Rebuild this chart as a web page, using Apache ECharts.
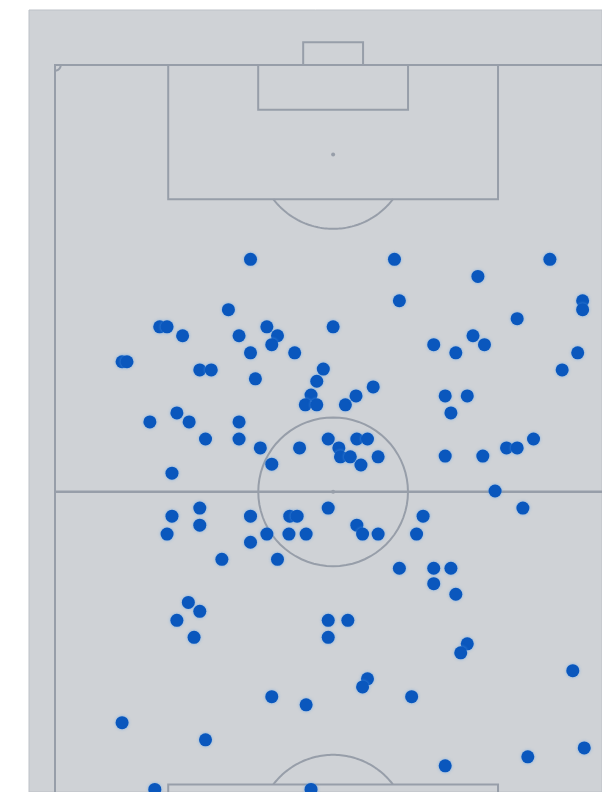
<!DOCTYPE html>
<html lang="en">

<head>
  <meta charset="UTF-8">
  <title>Pitch scatter</title>
  <script src="https://cdn.jsdelivr.net/npm/echarts@6/dist/echarts.min.js"></script>
  <style>
    html,
    body {
      height: 100%;
      margin: 0;
      padding: 0;
      background-color: #ffffff;
    }

    #pitch {
      width: 602px;
      height: 792px;
    }
  </style>
</head>

<body>
  <div id="pitch"></div>
  <script>
    // pitch size in metres (x = width, y = distance from the top goal line)
    const pitchWidth = 68;
    const pitchLength = 105;

    // event positions, metres
    const xs = [
      23.9, 41.5, 60.5, 51.7, 42.1, 64.5, 64.5, 21.2, 12.8, 13.7,
      15.6, 22.5, 25.9, 27.2, 26.5, 23.9, 29.3, 34.0, 56.5, 51.1,
      52.5, 46.3, 49.0, 63.9, 62.0, 8.2, 8.8, 17.7, 19.1, 24.5,
      32.8, 32.0, 31.3, 30.6, 32.0, 35.5, 36.8, 38.9, 47.7, 50.4,
      48.4, 11.6, 14.9, 16.4, 22.5, 18.4, 22.5, 25.1, 29.9, 33.4,
      34.7, 36.9, 38.2, 34.9, 36.1, 39.5, 37.4, 26.5, 14.3, 47.7,
      52.3, 55.2, 56.5, 58.5, 53.8, 57.2, 33.4, 17.7, 14.3, 17.7,
      13.7, 23.9, 28.7, 29.6, 25.9, 28.6, 30.7, 23.9, 20.4, 27.2,
      36.9, 37.6, 39.5, 45.0, 44.2, 42.1, 46.3, 48.4, 46.3, 49.0,
      16.3, 17.7, 14.9, 17.0, 33.4, 35.8, 33.4, 50.4, 49.6, 63.3,
      38.2, 37.6, 26.5, 30.7, 43.6, 8.2, 18.4, 64.7, 57.8, 47.7,
      12.2, 31.3
    ];
    const ys = [
      23.9, 23.9, 23.9, 26.0, 29.0, 29.0, 30.1, 30.1, 32.2, 32.2,
      33.3, 33.3, 32.2, 33.3, 34.4, 35.4, 35.4, 32.2, 31.2, 33.3,
      34.4, 34.4, 35.4, 35.4, 37.5, 36.5, 36.5, 37.5, 37.5, 38.6,
      37.4, 38.9, 40.6, 41.8, 41.8, 41.8, 40.7, 39.6, 40.7, 40.7,
      42.8, 43.9, 42.8, 43.9, 43.9, 46.0, 46.0, 47.1, 47.1, 46.0,
      47.1, 46.0, 46.0, 48.2, 48.2, 48.2, 49.2, 49.1, 50.2, 48.1,
      48.1, 47.1, 47.1, 46.0, 52.4, 54.5, 54.5, 54.5, 55.5, 56.6,
      57.7, 55.5, 55.5, 55.5, 57.7, 57.7, 57.7, 58.7, 60.8, 60.8,
      56.6, 57.7, 57.7, 55.5, 57.7, 61.9, 61.9, 61.9, 63.8, 65.1,
      66.1, 67.2, 68.3, 70.4, 68.3, 68.3, 70.4, 71.2, 72.3, 74.5,
      75.5, 76.5, 77.7, 78.7, 77.7, 80.9, 83.0, 84.0, 85.1, 86.2,
      89.1, 89.1
    ];

    const points = xs.map((x, i) => [x, ys[i]]);
    const lineColor = '#979ea9';

    // the panel is cropped by the window on the right and bottom
    const pxPerMetreX = 8.18, pxPerMetreY = 8.13;
    const gridLeft = 29, gridTop = 10;
    const xMin = -26 / pxPerMetreX, yMin = -55 / pxPerMetreY;
    const xMax = xMin + (602 - gridLeft) / pxPerMetreX;
    const yMax = yMin + (792 - gridTop) / pxPerMetreY;

    function drawPitch(params, api) {
      const W = pitchWidth;
      const L = pitchLength;
      const mid = W / 2;
      const children = [];

      function rect(x0, y0, x1, y1) {
        const a = api.coord([x0, y0]);
        const b = api.coord([x1, y1]);
        children.push({
          type: 'rect',
          shape: {
            x: Math.min(a[0], b[0]),
            y: Math.min(a[1], b[1]),
            width: Math.abs(b[0] - a[0]),
            height: Math.abs(b[1] - a[1])
          },
          style: { fill: 'none', stroke: lineColor, lineWidth: 2 }
        });
      }

      function line(x0, y0, x1, y1) {
        const a = api.coord([x0, y0]);
        const b = api.coord([x1, y1]);
        children.push({
          type: 'line',
          shape: { x1: a[0], y1: a[1], x2: b[0], y2: b[1] },
          style: { stroke: lineColor, lineWidth: 2.5 }
        });
      }

      function spot(x, y) {
        const c = api.coord([x, y]);
        children.push({
          type: 'circle',
          shape: { cx: c[0], cy: c[1], r: 2 },
          style: { fill: lineColor }
        });
      }

      // circles are drawn as ellipses so they follow both axis scales
      function arc(x, y, radius, start, end) {
        const c = api.coord([x, y]);
        const s = api.size([radius, radius]);
        const pts = [];
        const n = 72;
        for (let i = 0; i <= n; i++) {
          const t = start + (end - start) * i / n;
          pts.push([c[0] + s[0] * Math.cos(t), c[1] + s[1] * Math.sin(t)]);
        }
        children.push({
          type: 'polyline',
          shape: { points: pts },
          style: { fill: 'none', stroke: lineColor, lineWidth: 2 }
        });
      }

      // outline + halfway line
      rect(0, 0, W, L);
      line(0, L / 2, W, L / 2);

      // boxes, goals
      rect(mid - 20.16, 0, mid + 20.16, 16.5);
      rect(mid - 9.16, 0, mid + 9.16, 5.5);
      rect(mid - 3.66, -2.8, mid + 3.66, 0);
      rect(mid - 20.16, L - 16.5, mid + 20.16, L);
      rect(mid - 9.16, L - 5.5, mid + 9.16, L);
      rect(mid - 3.66, L, mid + 3.66, L + 2.8);

      // spots
      spot(mid, 11);
      spot(mid, L / 2);
      spot(mid, L - 11);

      // centre circle and penalty arcs
      arc(mid, L / 2, 9.15, 0, Math.PI * 2);
      const a = Math.acos(5.5 / 9.15);
      arc(mid, 11, 9.15, Math.PI / 2 - a, Math.PI / 2 + a);
      arc(mid, L - 11, 9.15, Math.PI * 1.5 - a, Math.PI * 1.5 + a);

      // corner arcs
      arc(0, 0, 0.7, 0, Math.PI / 2);
      arc(W, 0, 0.7, Math.PI / 2, Math.PI);

      return { type: 'group', children: children };
    }

    const chart = echarts.init(document.getElementById('pitch'));
    chart.setOption({
      animation: false,
      grid: {
        left: gridLeft,
        top: gridTop,
        right: 0,
        bottom: 0,
        show: true,
        backgroundColor: '#cfd2d6',
        borderColor: '#bdc1c7',
        borderWidth: 1
      },
      xAxis: {
        type: 'value',
        min: xMin,
        max: xMax,
        show: false
      },
      yAxis: {
        type: 'value',
        min: yMin,
        max: yMax,
        inverse: true,
        show: false
      },
      series: [
        {
          type: 'custom',
          renderItem: drawPitch,
          data: [[0, 0]],
          z: 1,
          silent: true
        },
        {
          type: 'scatter',
          data: points,
          symbolSize: 13,
          z: 2,
          itemStyle: {
            color: '#0a57bd',
            opacity: 1,
            shadowBlur: 3,
            shadowColor: 'rgba(90,160,235,0.7)'
          }
        }
      ]
    });
  </script>
</body>

</html>
